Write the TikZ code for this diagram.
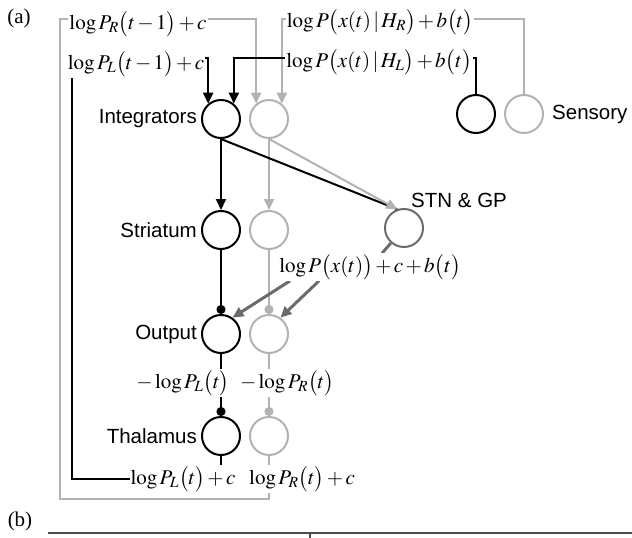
\documentclass[tikz,border=0pt]{standalone}
\usepackage{mathptmx}
\usepackage{fontspec}
\setmainfont{Liberation Serif}
\setsansfont{Liberation Sans}
\usepackage{tikz}
\usetikzlibrary{arrows.meta, positioning, calc, backgrounds}
\definecolor{lgray}{gray}{0.70}
\definecolor{dgray}{gray}{0.42}
\newcommand{\eqnfont}{\fontsize{21}{25}\selectfont\medmuskip 2mu\relax}
\tikzstyle{cell} = [circle, draw=black, line width=2pt, minimum size=38pt, inner sep=0pt]
\tikzstyle{arealabel} = [font=\sffamily\fontsize{20.5}{24}\selectfont, inner sep=2pt]
\tikzstyle{eqn} = [font=\eqnfont, fill=white, inner sep=1pt]
\tikzstyle{wire} = [line width=2pt]
\tikzstyle{arrow} = [line width=2pt, -{Triangle[length=11pt,width=10pt]}]
\tikzstyle{inhib} = [line width=2pt, -{Circle[length=9pt]}]

\begin{document}
\begin{tikzpicture}[x=1pt, y=-1pt, node distance=8pt]
    \useasboundingbox (0,0) rectangle (632,538);
    \node (tagA) [font=\fontsize{21}{24}\selectfont] at (19,18) {(a)};
    \node (tagB) [font=\fontsize{21}{24}\selectfont] at (20,521) {(b)};

    % cell pairs, left = black, right = grey
    \node (intL) [cell] at (221,119) {};
    \node (intR) [cell, draw=lgray, right=of intL] {};
    \node (strL) [cell] at (221,230) {};
    \node (strR) [cell, draw=lgray, right=of strL] {};
    \node (outL) [cell] at (221,334) {};
    \node (outR) [cell, draw=lgray, right=of outL] {};
    \node (thalL) [cell] at (221,436) {};
    \node (thalR) [cell, draw=lgray, right=of thalL] {};
    \node (stn) [cell, draw=dgray] at (404,228) {};
    \node (sensL) [cell] at (476,114) {};
    \node (sensR) [cell, draw=lgray, right=of sensL] {};

    \node [arealabel, left=2pt of intL] {Integrators};
    \node [arealabel, left=2pt of strL] {Striatum};
    \node [arealabel, left=2pt of outL] {Output};
    \node [arealabel, left=2pt of thalL] {Thalamus};
    \node [arealabel, anchor=south west] at ([xshift=5pt, yshift=-2pt]stn.north) {STN \& GP};
    \node [arealabel, right=6pt of sensR] {Sensory};

    % terms written on the wires
    \node (lRprev) [eqn] at (138,24) {$\log P_R\bigl(t-1\bigr)+c$};
    \node (lLprev) [eqn] at (136,64) {$\log P_L\bigl(t-1\bigr)+c$};
    \node (lHR) [eqn] at (380,22) {$\log P\bigl(x(t)\,|\,H_R\bigr)+b\bigl(t\bigr)$};
    \node (lHL) [eqn] at (379,62) {$\log P\bigl(x(t)\,|\,H_L\bigr)+b\bigl(t\bigr)$};
    \node (lSTN) [eqn] at (370,267) {$\log P\bigl(x(t)\bigr)+c+b\bigl(t\bigr)$};
    \node (lnegL) [eqn] at (183,383) {$-\log P_L\bigl(t\bigr)$};
    \node (lnegR) [eqn] at (287,383) {$-\log P_R\bigl(t\bigr)$};
    \node (lPL) [eqn] at (183,479) {$\log P_L\bigl(t\bigr)+c$};
    \node (lPR) [eqn] at (302,479) {$\log P_R\bigl(t\bigr)+c$};

    \coordinate (gtop) at (60,19);
    \coordinate (gbot) at (60,499);
    \coordinate (btop) at (72,58);
    \coordinate (bbot) at (72,479);

    \begin{scope}[on background layer]
        % feedback and sensory input
        \draw [arrow, lgray] (thalR.south) |- (gbot) -- (gtop) -| (intR.130);
        \draw [arrow, lgray] (sensR.north) -- (sensR.north |- gtop) -| (intR.50);
        \draw [arrow] (thalL.south) |- (bbot) -- (btop) -| (intL.130);
        \draw [arrow] (sensL.north) -- (sensL.north |- btop) -| (intL.50);

        \foreach \a/\b/\c in {intR/strR/lgray, intL/strL/black} {
            \draw [arrow, \c] (\a) -- (\b);
        }
        \foreach \a/\b/\c in {strR/outR/lgray, outR/thalR/lgray, strL/outL/black, outL/thalL/black} {
            \draw [inhib, \c] (\a) -- (\b);
        }
        \draw [wire] (intL.south) -- (stn.110);
        \draw [arrow, lgray] (intR.south) -- (stn.110);

        \draw [wire, dgray, line width=3pt] (stn) -- (lSTN);
        \draw [arrow, dgray, line width=3pt] ([xshift=12pt]lSTN.south west) -- (outL.55);
        \draw [arrow, dgray, line width=3pt] ([xshift=41pt]lSTN.south west) -- (outR.55);
    \end{scope}

    % top of table (b)
    \draw [line width=1.5pt, black!70] (48,533) -- (632,533);
    \draw [line width=1.5pt, black!70] (310,533) -- (310,538);
\end{tikzpicture}
\end{document}
